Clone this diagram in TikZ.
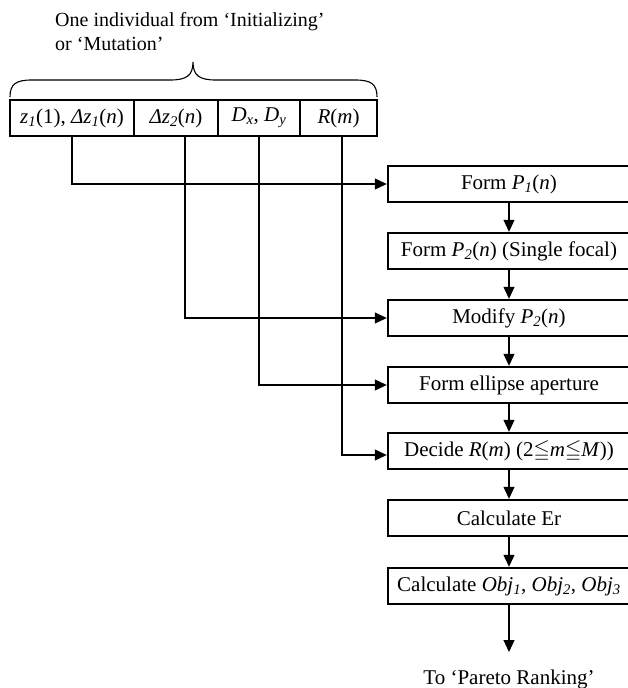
\documentclass[tikz,border=0pt]{standalone}
\usepackage{fontspec}
\setmainfont{Liberation Serif}
\usepackage{amssymb}
\usetikzlibrary{arrows.meta}
\newcommand\sbi[1]{\textsubscript{\textit{#1}}}
\begin{document}
\begin{tikzpicture}[x=1pt,y=-1pt,
  every node/.style={font=\fontsize{21}{25}\selectfont, inner sep=0pt},
  titletext/.style={font=\fontsize{20}{24}\selectfont, anchor=base west},
  cell/.style={draw, line width=2.4pt, minimum height=36pt},
  box/.style={draw, line width=2.4pt, minimum width=242pt, minimum height=36pt},
  conn/.style={line width=1.1pt},
  arr/.style={line width=1.1pt, -{Triangle[length=12pt,width=11pt]}}]
\useasboundingbox (0,0) rectangle (627,688);
% title
\node[titletext] (t1) at (55,27) {One individual from ‘Initializing’};
\node[titletext] (t2) at (55,50) {or ‘Mutation’};
% brace
\draw[conn] (10,97) .. controls (10,84) and (16,80) .. (32,80) -- (170,80)
  .. controls (186,80) and (193,76) .. (193,62)
  .. controls (193,76) and (200,80) .. (216,80) -- (355,80)
  .. controls (371,80) and (377,84) .. (377,97);
% header cells
\node[cell, minimum width=124pt] (c1) at (72,118) {\textit{z}\sbi{1}(1), \textit{Δz}\sbi{1}(\textit{n})};
\node[cell, minimum width=84pt] (c2) at (176,118) {\textit{Δz}\sbi{2}(\textit{n})};
\node[cell, minimum width=82pt] (c3) at (259,118) {\textit{D}\sbi{x}, \textit{D}\sbi{y}};
\node[cell, minimum width=77pt] (c4) at (338.5,118) {\textit{R}(\textit{m})};
% boxes
\node[box] (b1) at (509,184) {Form \textit{P}\sbi{1}(\textit{n})};
\node[box] (b2) at (509,251) {Form \textit{P}\sbi{2}(\textit{n}) (Single focal)};
\node[box] (b3) at (509,318) {Modify \textit{P}\sbi{2}(\textit{n})};
\node[box] (b4) at (509,385) {Form ellipse aperture};
\node[box] (b5) at (509,451) {Decide \textit{R}(\textit{m}) (2$\leqq$\textit{m}$\leqq$\textit{M}))};
\node[box] (b6) at (509,518) {Calculate Er};
\node[box] (b7) at (509,586) {Calculate \textit{Obj}\sbi{1}, \textit{Obj}\sbi{2}, \textit{Obj}\sbi{3}};
\node[anchor=base] (out) at (509,684) {To ‘Pareto Ranking’};
\coordinate (end) at (509,652);
% connectors
\draw[arr] (c1.south) |- (b1.west);
\draw[arr] ([xshift=9pt]c2.south) |- (b3.west);
\draw[arr] (c3.south) |- (b4.west);
\draw[arr] ([xshift=3.5pt]c4.south) |- ([yshift=-4pt]b5.west);
\draw[arr] (b1) -- (b2);
\draw[arr] (b2) -- (b3);
\draw[arr] (b3) -- (b4);
\draw[arr] (b4) -- (b5);
\draw[arr] (b5) -- (b6);
\draw[arr] (b6) -- (b7);
\draw[arr] (b7) -- (end);
\end{tikzpicture}
\end{document}
